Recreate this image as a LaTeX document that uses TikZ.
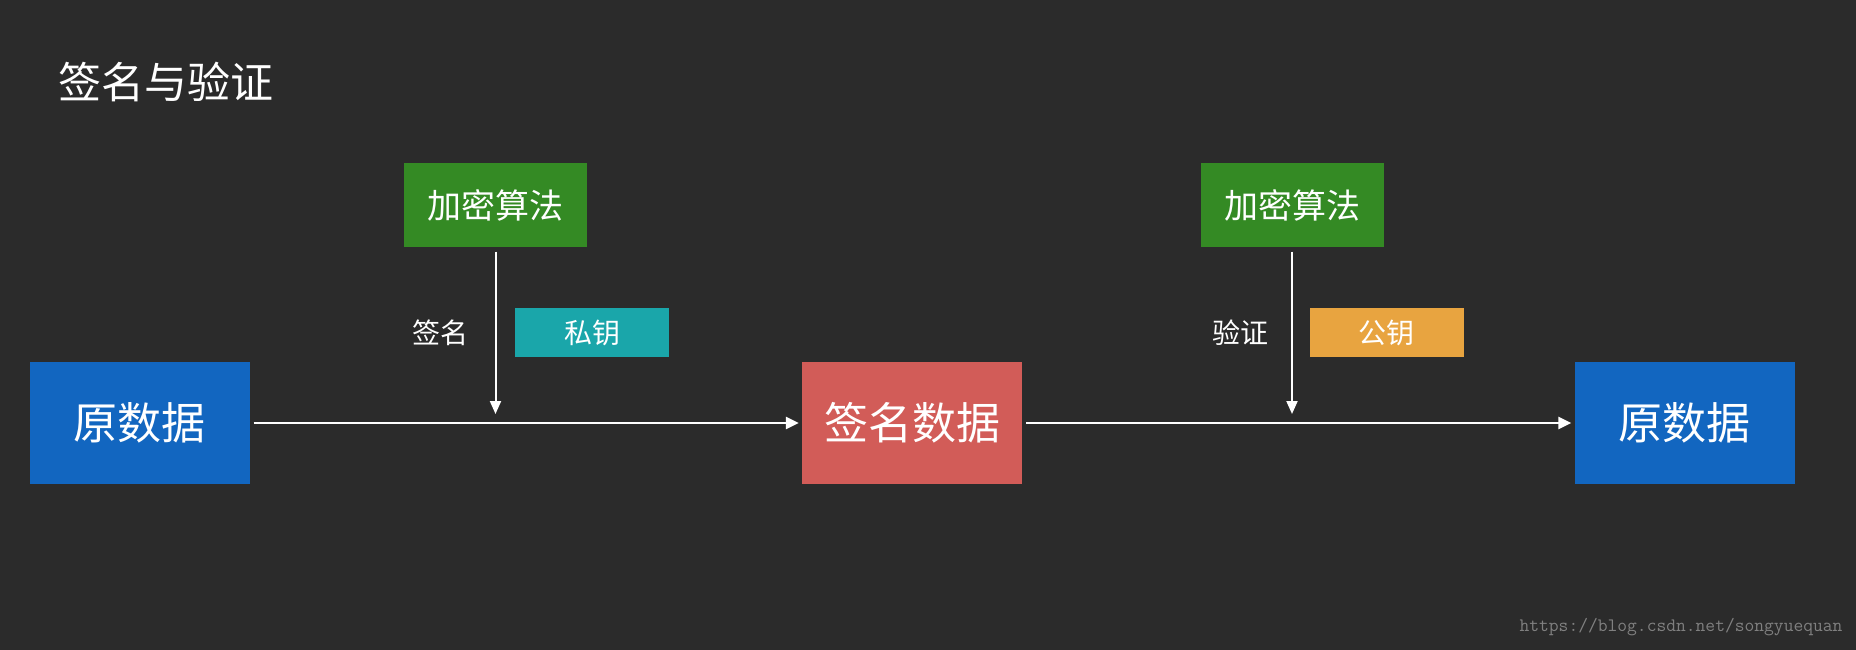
\documentclass[tikz,border=0pt]{standalone}
\usepackage{fontspec}
\setmainfont{Noto Sans CJK SC}
\usetikzlibrary{arrows.meta}

\definecolor{bgdark}{RGB}{43,43,43}
\definecolor{datablue}{RGB}{18,102,192}
\definecolor{signred}{RGB}{210,92,88}
\definecolor{algogreen}{RGB}{52,138,36}
\definecolor{keyteal}{RGB}{26,166,170}
\definecolor{keyorange}{RGB}{232,164,64}

\begin{document}
\begin{tikzpicture}[x=1pt, y=-1pt,
    databox/.style={fill=datablue, text=white, minimum width=220pt, minimum height=122pt,
        font=\fontsize{44}{50}\selectfont},
    algobox/.style={fill=algogreen, text=white, minimum width=183pt, minimum height=83pt,
        font=\fontsize{34}{40}\selectfont},
    keybox/.style={text=white, minimum width=154pt, minimum height=49pt,
        font=\fontsize{28}{32}\selectfont},
    flow/.style={white, line width=2.6pt, -{Triangle[length=13pt, width=12pt]}},
    feed/.style={white, line width=2pt, -{Triangle[length=13pt, width=11pt]}}]

            \fill[bgdark] (0,0) rectangle (1856,650);
            \useasboundingbox (0,0) rectangle (1856,650);

            \node[white, anchor=west, font=\fontsize{43}{50}\selectfont]
                (title) at (55,82) {签名与验证};

            \node[databox] (src) at (139.5,423) {原数据};
            \node[databox, fill=signred] (signed) at (912,423) {签名数据};
            \node[databox] (dst) at (1684.5,423) {原数据};

            \node[algobox] (algoA) at (495.5,205) {加密算法};
            \node[algobox] (algoB) at (1292,205) {加密算法};

            \node[keybox, fill=keyteal] (privkey) at (592,332.5) {私钥};
            \node[keybox, fill=keyorange] (pubkey) at (1386.5,332.5) {公钥};

            \node[white, font=\fontsize{28}{32}\selectfont] (signlbl) at (440,333) {签名};
            \node[white, font=\fontsize{28}{32}\selectfont] (verilbl) at (1240,333) {验证};

            \coordinate (hitA) at (495.5,414);
            \coordinate (hitB) at (1292,414);

            \draw[flow, shorten <=4pt, shorten >=3pt] (src) -- (signed);
            \draw[flow, shorten <=4pt, shorten >=3pt] (signed) -- (dst);

            \draw[feed, shorten <=5pt] (algoA) -- (hitA);
            \draw[feed, shorten <=5pt] (algoB) -- (hitB);

            \node[anchor=east, text={rgb,255:red,128;green,128;blue,128},
                font=\ttfamily\fontsize{19}{21}\selectfont]
                (mark) at (1846,627) {https://blog.csdn.net/songyuequan};
        \end{tikzpicture}
\end{document}
